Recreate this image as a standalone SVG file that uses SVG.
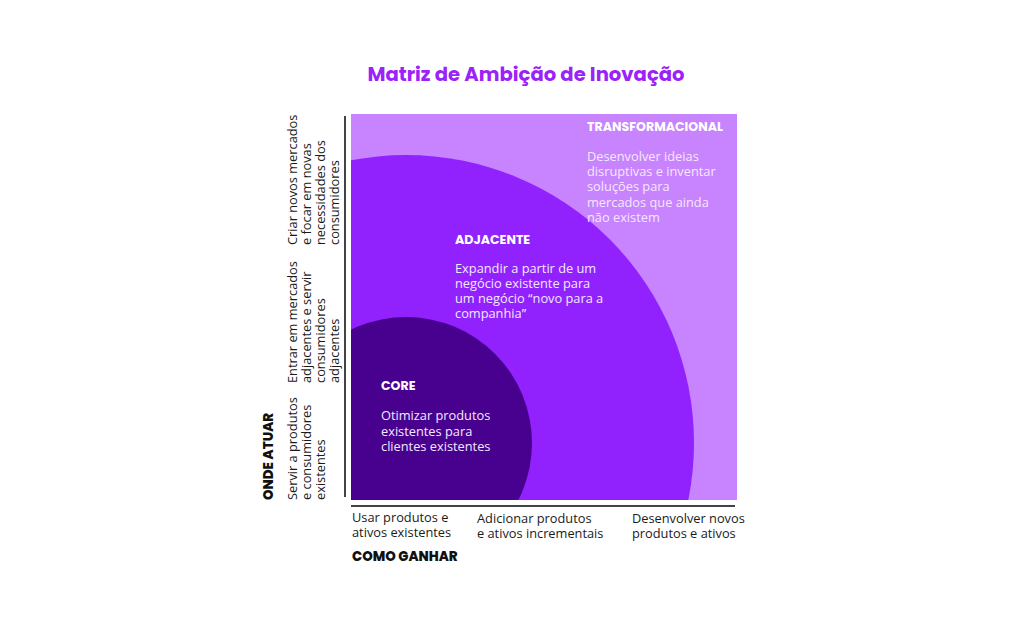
<svg xmlns="http://www.w3.org/2000/svg" width="1024" height="630" viewBox="0 0 1024 630">
<style>
.t{font-family:"Open Sans","Liberation Sans",sans-serif;font-size:12.8px;fill:#1a1a1a}
.w{font-family:"Open Sans","Liberation Sans",sans-serif;font-size:12.8px;fill:#f4e8ff}
.h{font-family:Poppins,"Inter","Liberation Sans",sans-serif;font-size:12.6px;font-weight:700;fill:#ffffff}
.b{font-family:Poppins,"Inter","Liberation Sans",sans-serif;font-size:13.4px;font-weight:800;fill:#111111}
</style>
<defs>
<clipPath id="sq"><rect x="351" y="114" width="386" height="386"/></clipPath>
</defs>
<rect width="1024" height="630" fill="#ffffff"/>
<text x="526" y="81" text-anchor="middle" font-family="Poppins,Inter,'Liberation Sans',sans-serif" font-size="19.6" font-weight="700" fill="#9b22f8">Matriz de Ambição de Inovação</text>
<g id="transformacional">
<rect x="351" y="114" width="386" height="386" fill="#c883fe"/>
</g>
<g id="adjacente">
<circle cx="406" cy="443" r="288" fill="#9122fe" clip-path="url(#sq)"/>
</g>
<g id="core">
<circle cx="406" cy="443" r="126" fill="#48008f" clip-path="url(#sq)"/>
</g>
<g id="labels-transformacional">
<text class="h" x="587" y="131">TRANSFORMACIONAL</text>
<text class="w" x="587" y="161">Desenvolver ideias</text>
<text class="w" x="587" y="176">disruptivas e inventar</text>
<text class="w" x="587" y="191">soluções para</text>
<text class="w" x="587" y="207">mercados que ainda</text>
<text class="w" x="587" y="222">não existem</text>
</g>
<g id="labels-adjacente">
<text class="h" x="455" y="244">ADJACENTE</text>
<text class="w" x="455" y="273">Expandir a partir de um</text>
<text class="w" x="455" y="288">negócio existente para</text>
<text class="w" x="455" y="303">um negócio “novo para a</text>
<text class="w" x="455" y="318">companhia”</text>
</g>
<g id="labels-core">
<text class="h" x="381" y="390">CORE</text>
<text class="w" x="381" y="420">Otimizar produtos</text>
<text class="w" x="381" y="436">existentes para</text>
<text class="w" x="381" y="451">clientes existentes</text>
</g>
<g id="connectors">
<line x1="345" y1="116" x2="345" y2="497" stroke="#444" stroke-width="2"/>
<line x1="351" y1="506" x2="735" y2="506" stroke="#444" stroke-width="2"/>
</g>
<g id="axis-y">
<text class="b" transform="translate(273,500) rotate(-90)">ONDE ATUAR</text>
<text class="t" transform="translate(297,500) rotate(-90)">Servir a produtos</text>
<text class="t" transform="translate(311,500) rotate(-90)">e consumidores</text>
<text class="t" transform="translate(325,500) rotate(-90)">existentes</text>
<text class="t" transform="translate(297,383) rotate(-90)">Entrar em mercados</text>
<text class="t" transform="translate(311,383) rotate(-90)">adjacentes e servir</text>
<text class="t" transform="translate(325,383) rotate(-90)">consumidores</text>
<text class="t" transform="translate(339,383) rotate(-90)">adjacentes</text>
<text class="t" transform="translate(297,245) rotate(-90)">Criar novos mercados</text>
<text class="t" transform="translate(311,245) rotate(-90)">e focar em novas</text>
<text class="t" transform="translate(325,245) rotate(-90)">necessidades dos</text>
<text class="t" transform="translate(339,245) rotate(-90)">consumidores</text>
</g>
<g id="axis-x">
<text class="t" x="352" y="522">Usar produtos e</text>
<text class="t" x="352" y="537">ativos existentes</text>
<text class="t" x="477" y="523">Adicionar produtos</text>
<text class="t" x="477" y="538">e ativos incrementais</text>
<text class="t" x="632" y="523">Desenvolver novos</text>
<text class="t" x="632" y="538">produtos e ativos</text>
<text class="b" x="352" y="561">COMO GANHAR</text>
</g>
</svg>
